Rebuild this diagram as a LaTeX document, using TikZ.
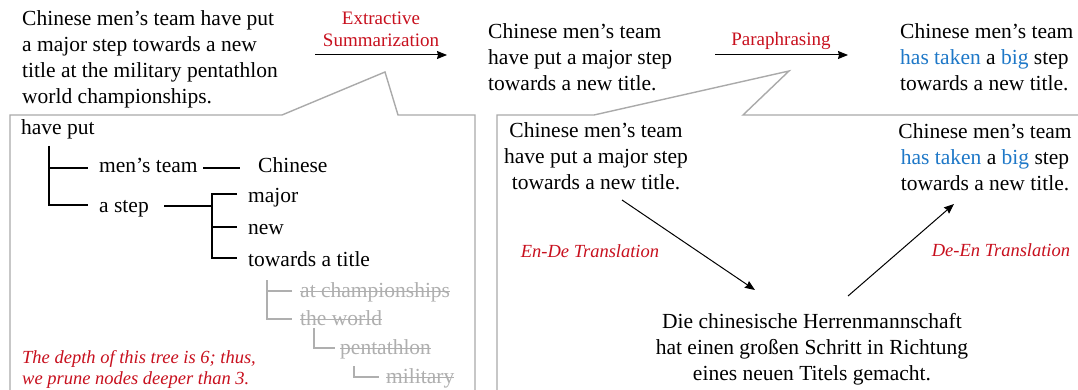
\documentclass[tikz,border=0pt]{standalone}
\usepackage{fontspec}
\setmainfont{Liberation Serif}
\usetikzlibrary{arrows.meta}
\definecolor{myred}{RGB}{200,16,30}
\definecolor{myblue}{RGB}{30,120,200}
\definecolor{boxgray}{RGB}{170,170,170}
\definecolor{txtgray}{RGB}{175,175,175}
\tikzset{
 txt/.style={font=\fontsize{21.5}{26}\selectfont, inner sep=0pt, align=left},
 ctxt/.style={font=\fontsize{21.5}{26}\selectfont, inner sep=0pt, align=center},
 lbl/.style={font=\fontsize{19}{22}\selectfont, text=myred, inner sep=0pt, align=center},
 ilbl/.style={font=\fontsize{18.5}{21}\selectfont\itshape, text=myred, inner sep=0pt, align=left},
 arr/.style={-{Stealth[length=10pt,width=8pt,inset=1pt]}, line width=1pt},
 callout/.style={draw=boxgray, line width=1.4pt},
 tl/.style={line width=1.3pt},
 gl/.style={line width=1.3pt, draw=txtgray},
 tn/.style={font=\fontsize{21.5}{26}\selectfont, inner sep=0pt, anchor=base west},
 gn/.style={tn, text=txtgray},
 strike/.style={line width=1pt, draw=txtgray},
}
\begin{document}
\begin{tikzpicture}[x=1pt,y=-1pt]
\clip (0,0) rectangle (1078,390);
\fill[white] (0,0) rectangle (1078,390);

% callout boxes
\draw[callout] (10,400) -- (10,115) -- (282,115) -- (385,72) -- (398,115) -- (475,115) -- (475,400);
\draw[callout] (497,400) -- (497,115) -- (594,115) -- (789,71) -- (743,115) -- (1095,115);

% top row
\node[txt, anchor=north west] (src) at (22,10) {Chinese men’s team have put\\a major step towards a new\\title at the military pentathlon\\world championships.};
\node[lbl] (l1) at (381,29) {Extractive\\Summarization};
\coordinate (a1s) at (315,55);
\coordinate (a1e) at (447,55);
\draw[arr] (a1s) -- (a1e);

\node[txt, anchor=north west] (mid) at (488,23.5) {Chinese men’s team\\have put a major step\\towards a new title.};
\node[lbl, anchor=base] (l2) at (781,46) {Paraphrasing};
\coordinate (a2s) at (715,55);
\coordinate (a2e) at (848,55);
\draw[arr] (a2s) -- (a2e);

\node[txt, anchor=north west] (out) at (900,23.5) {Chinese men’s team\\{\color{myblue}has taken} a {\color{myblue}big} step\\towards a new title.};

% tree
\node[tn] (hp) at (21,135) {have put};
\node[tn] (mt) at (99,173) {men’s team};
\node[tn] (ch) at (258,173) {Chinese};
\node[tn] (as) at (99,212) {a step};
\node[tn] (mj) at (248,202) {major};
\node[tn] (nw) at (248,234) {new};
\node[tn] (tt) at (248,266) {towards a title};
\node[gn] (ac) at (300,297) {at championships};
\node[gn] (tw) at (300,325) {the world};
\node[gn] (pe) at (340,354) {pentathlon};
\node[gn] (mi) at (386,383) {military};
\foreach \n in {ac,tw,pe,mi}{
  \draw[strike] ([yshift=5.5pt]\n.base west) -- ([yshift=5.5pt]\n.base east);
}

\draw[tl] (49,146) -- (49,205) -- (88,205);
\draw[tl] (49,168) -- (88,168);
\draw[tl] (203,168) -- (240,168);
\draw[tl] (164,206) -- (212,206);
\draw[tl] (237,194) -- (212,194) -- (212,258) -- (237,258);
\draw[tl] (212,227) -- (237,227);
\draw[gl] (292,291) -- (267,291);
\draw[gl] (267,280) -- (267,319) -- (292,319);
\draw[gl] (314,328) -- (314,348) -- (335,348);
\draw[gl] (354,366) -- (354,377) -- (379,377);

\node[ilbl, anchor=north west] (note) at (22,350) {The depth of this tree is 6; thus,\\we prune nodes deeper than 3.};

% translation panel
\node[ctxt, anchor=north] (en1) at (596,122) {Chinese men’s team\\have put a major step\\towards a new title.};
\node[ctxt, anchor=north] (en2) at (985,123) {Chinese men’s team\\{\color{myblue}has taken} a {\color{myblue}big} step\\towards a new title.};
\node[ctxt, anchor=north] (de) at (812,313) {Die chinesische Herrenmannschaft\\hat einen großen Schritt in Richtung\\eines neuen Titels gemacht.};
\node[ilbl, anchor=base] (t1) at (590,257) {En-De Translation};
\node[ilbl, anchor=base] (t2) at (1001,256) {De-En Translation};
\coordinate (b1s) at (622,200);
\coordinate (b1e) at (755,290);
\coordinate (b2s) at (848,296);
\coordinate (b2e) at (954,204);
\draw[arr] (b1s) -- (b1e);
\draw[arr] (b2s) -- (b2e);
\end{tikzpicture}
\end{document}
